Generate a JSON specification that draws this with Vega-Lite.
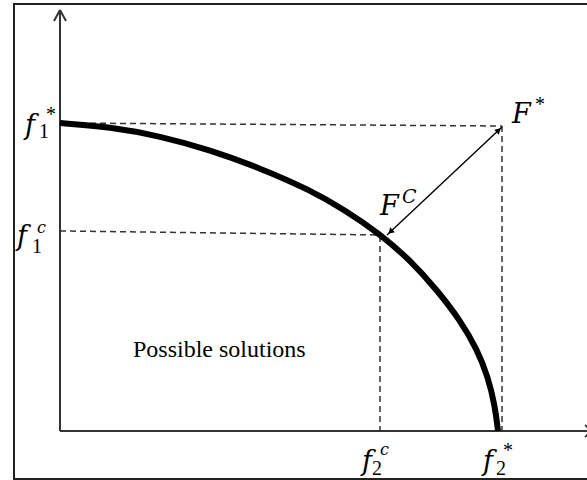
{
  "$schema": "https://vega.github.io/schema/vega-lite/v6.json",
  "width": 587,
  "height": 480,
  "padding": 0,
  "autosize": {"type": "none"},
  "background": "white",
  "config": {"view": {"stroke": null}},
  "datasets": {
    "frame": [{"x": -46, "x2": 545, "y": 427, "y2": -48}],
    "axes": [
      {"x": 0, "y": 0, "x2": 0, "y2": 421},
      {"x": -6, "y": 410, "x2": 0, "y2": 421},
      {"x": 6, "y": 410, "x2": 0, "y2": 421},
      {"x": 0, "y": 0, "x2": 540, "y2": 0},
      {"x": 525, "y": 6, "x2": 532, "y2": 0},
      {"x": 525, "y": -6, "x2": 532, "y2": 0}
    ],
    "dashed": [
      {"x": 0, "y": 308, "x2": 442, "y2": 305},
      {"x": 442, "y": 305, "x2": 442, "y2": 0},
      {"x": 0, "y": 200, "x2": 324, "y2": 196},
      {"x": 320, "y": 195, "x2": 320, "y2": 0}
    ],
    "arrow": [{"x": 327, "y": 196, "x2": 442, "y2": 304}],
    "heads": [
      {"x": 438.6, "y": 300.8, "angle": 46.8},
      {"x": 330.4, "y": 199.2, "angle": 226.8}
    ],
    "curve": [
      {"x": 0, "y": 308}, {"x": 50, "y": 304}, {"x": 100, "y": 295},
      {"x": 150, "y": 281}, {"x": 200, "y": 263}, {"x": 250, "y": 241},
      {"x": 285, "y": 221}, {"x": 320, "y": 197}, {"x": 350, "y": 171},
      {"x": 377, "y": 141}, {"x": 400, "y": 111}, {"x": 417, "y": 82},
      {"x": 428, "y": 54}, {"x": 435, "y": 25}, {"x": 438, "y": 0}
    ],
    "mainLetters": [
      {"x": -35, "y": 297, "t": "f"},
      {"x": -43, "y": 186, "t": "f"},
      {"x": 302, "y": -39, "t": "f"},
      {"x": 423, "y": -39, "t": "f"},
      {"x": 452, "y": 308, "t": "F"},
      {"x": 320, "y": 216, "t": "F"}
    ],
    "subs": [
      {"x": -21, "y": 293, "t": "1"},
      {"x": -28, "y": 178, "t": "1"},
      {"x": 312, "y": -44, "t": "2"},
      {"x": 436, "y": -44, "t": "2"}
    ],
    "supsSmall": [
      {"x": -23, "y": 198, "t": "c"},
      {"x": 320, "y": -24, "t": "c"}
    ],
    "supsCap": [
      {"x": 342, "y": 228, "t": "C"}
    ],
    "stars": [
      {"x": -14, "y": 310, "t": "*"},
      {"x": 475, "y": 320, "t": "*"},
      {"x": 443, "y": -26, "t": "*"}
    ],
    "region": [{"x": 73, "y": 74, "t": "Possible solutions"}]
  },
  "layer": [
    {
      "data": {"name": "frame"},
      "mark": {"type": "rect", "fill": null, "stroke": "#222222", "strokeWidth": 2},
      "encoding": {
        "x": {"field": "x", "type": "quantitative", "scale": {"domain": [-60, 527], "nice": false, "zero": false}, "axis": null},
        "x2": {"field": "x2"},
        "y": {"field": "y", "type": "quantitative", "scale": {"domain": [-49, 431], "nice": false, "zero": false}, "axis": null},
        "y2": {"field": "y2"}
      }
    },
    {
      "data": {"name": "dashed"},
      "mark": {"type": "rule", "color": "#333333", "strokeWidth": 1.5, "strokeDash": [6, 4]},
      "encoding": {
        "x": {"field": "x", "type": "quantitative"},
        "y": {"field": "y", "type": "quantitative"},
        "x2": {"field": "x2"},
        "y2": {"field": "y2"}
      }
    },
    {
      "data": {"name": "axes"},
      "mark": {"type": "rule", "color": "#333333", "strokeWidth": 2},
      "encoding": {
        "x": {"field": "x", "type": "quantitative"},
        "y": {"field": "y", "type": "quantitative"},
        "x2": {"field": "x2"},
        "y2": {"field": "y2"}
      }
    },
    {
      "data": {"name": "curve"},
      "mark": {"type": "line", "color": "black", "strokeWidth": 6, "interpolate": "basis", "strokeCap": "butt"},
      "encoding": {
        "x": {"field": "x", "type": "quantitative"},
        "y": {"field": "y", "type": "quantitative"}
      }
    },
    {
      "data": {"name": "arrow"},
      "mark": {"type": "rule", "color": "black", "strokeWidth": 1.4},
      "encoding": {
        "x": {"field": "x", "type": "quantitative"},
        "y": {"field": "y", "type": "quantitative"},
        "x2": {"field": "x2"},
        "y2": {"field": "y2"}
      }
    },
    {
      "data": {"name": "heads"},
      "mark": {"type": "point", "shape": "triangle-up", "filled": true, "color": "black", "size": 45, "opacity": 1},
      "encoding": {
        "x": {"field": "x", "type": "quantitative"},
        "y": {"field": "y", "type": "quantitative"},
        "angle": {"field": "angle", "type": "quantitative", "scale": null}
      }
    },
    {
      "data": {"name": "mainLetters"},
      "mark": {"type": "text", "font": "DejaVu Serif", "fontStyle": "italic", "fontSize": 27, "align": "left", "baseline": "alphabetic", "color": "black"},
      "encoding": {
        "x": {"field": "x", "type": "quantitative"},
        "y": {"field": "y", "type": "quantitative"},
        "text": {"field": "t"}
      }
    },
    {
      "data": {"name": "subs"},
      "mark": {"type": "text", "font": "Liberation Serif", "fontSize": 20, "align": "left", "baseline": "alphabetic", "color": "black"},
      "encoding": {
        "x": {"field": "x", "type": "quantitative"},
        "y": {"field": "y", "type": "quantitative"},
        "text": {"field": "t"}
      }
    },
    {
      "data": {"name": "supsSmall"},
      "mark": {"type": "text", "font": "DejaVu Serif", "fontStyle": "italic", "fontSize": 16, "align": "left", "baseline": "alphabetic", "color": "black"},
      "encoding": {
        "x": {"field": "x", "type": "quantitative"},
        "y": {"field": "y", "type": "quantitative"},
        "text": {"field": "t"}
      }
    },
    {
      "data": {"name": "supsCap"},
      "mark": {"type": "text", "font": "DejaVu Serif", "fontStyle": "italic", "fontSize": 19, "align": "left", "baseline": "alphabetic", "color": "black"},
      "encoding": {
        "x": {"field": "x", "type": "quantitative"},
        "y": {"field": "y", "type": "quantitative"},
        "text": {"field": "t"}
      }
    },
    {
      "data": {"name": "stars"},
      "mark": {"type": "text", "font": "Liberation Serif", "fontSize": 20, "align": "left", "baseline": "alphabetic", "color": "black"},
      "encoding": {
        "x": {"field": "x", "type": "quantitative"},
        "y": {"field": "y", "type": "quantitative"},
        "text": {"field": "t"}
      }
    },
    {
      "data": {"name": "region"},
      "mark": {"type": "text", "font": "Liberation Serif", "fontSize": 24, "align": "left", "baseline": "alphabetic", "color": "black"},
      "encoding": {
        "x": {"field": "x", "type": "quantitative"},
        "y": {"field": "y", "type": "quantitative"},
        "text": {"field": "t"}
      }
    }
  ]
}
